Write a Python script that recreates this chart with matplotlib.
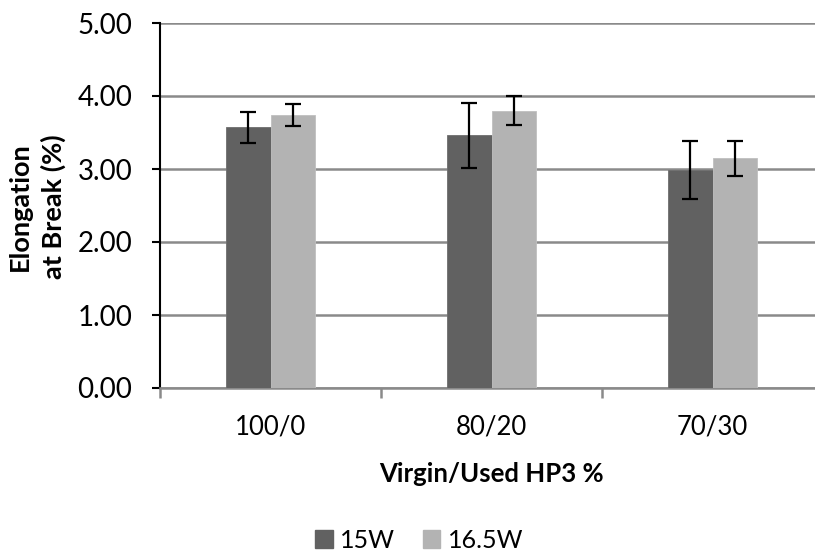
import matplotlib
matplotlib.use("Agg")
import matplotlib.pyplot as plt
import numpy as np
from matplotlib.patches import Patch

plt.rcParams['font.family'] = ['Lato', 'DejaVu Sans']

categories = ["100/0", "80/20", "70/30"]
series_names = ["15W", "16.5W"]
vals_15w = [3.57, 3.46, 2.99]
err_15w = [0.21, 0.44, 0.40]
vals_165w = [3.74, 3.80, 3.15]
err_165w = [0.155, 0.20, 0.24]
yticks = [0, 1, 2, 3, 4, 5]

W, H = 815, 554
fig = plt.figure(figsize=(W/100, H/100), dpi=100)
ax = fig.add_axes([160/W, 1-388/H, 663/W, 365/H])

x = np.arange(len(categories))
bw = 0.2
c1, c2 = "#616161", "#b3b3b3"
ax.bar(x - bw/2, vals_15w, bw, color=c1, edgecolor="#6e6e6e", linewidth=0.6, zorder=3, label=series_names[0])
ax.bar(x + bw/2, vals_165w, bw, color=c2, edgecolor="#c0c0c0", linewidth=0.6, zorder=3, label=series_names[1])
ekw = dict(fmt='none', ecolor='black', elinewidth=1.6, capsize=5.5, capthick=1.6, zorder=4)
ax.errorbar(x - bw/2, vals_15w, yerr=err_15w, **ekw)
ax.errorbar(x + bw/2, vals_165w, yerr=err_165w, **ekw)

ax.set_xlim(-0.5, 2.5)
ax.set_ylim(0, 5)
ax.set_yticks(yticks)
ax.set_yticklabels([f"{v:.2f}" for v in yticks], fontsize=20)
ax.yaxis.grid(True, color="#8a8a8a", linewidth=1.8, zorder=0)
ax.set_axisbelow(True)

ax.set_xticks(x)
ax.set_xticklabels(categories, fontsize=18.5)
ax.set_xticks([-0.5, 0.5, 1.5, 2.5], minor=True)
ax.tick_params(axis='x', which='major', length=0, pad=19)
ax.tick_params(axis='x', which='minor', length=7, width=1.8, color="#8a8a8a")
ax.tick_params(axis='y', length=6, width=1.5, color='black', pad=14)

for s in ['top', 'right']:
    ax.spines[s].set_visible(False)
ax.spines['left'].set_color('black')
ax.spines['left'].set_linewidth(1.5)
ax.spines['bottom'].set_color('#8a8a8a')
ax.spines['bottom'].set_linewidth(1.8)

ax.set_xlabel("Virgin/Used HP3 %", fontsize=18.5, fontweight='bold', labelpad=16)
fig.text(37/W, 1-207/H, "Elongation\nat Break (%)", rotation=90, ha='center', va='center',
         fontsize=19.5, fontweight='bold', linespacing=1.4)

handles = [Patch(facecolor=c1, edgecolor=c1), Patch(facecolor=c2, edgecolor=c2)]
fig.legend(handles, series_names, loc='center', bbox_to_anchor=(419/W, 1-540/H), ncol=2,
           frameon=False, fontsize=18, handlelength=0.7, handleheight=0.7,
           handletextpad=0.3, columnspacing=1.1)

fig.savefig("out.png", dpi=100)
